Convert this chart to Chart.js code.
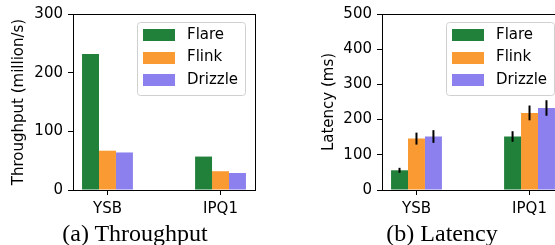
<!DOCTYPE html>
<html>
<head>
<meta charset="utf-8">
<script src="https://cdn.jsdelivr.net/npm/chart.js@4.4.0/dist/chart.umd.min.js"></script>
<style>
  html, body { margin: 0; padding: 0; background: #fff; }
  #fig { position: relative; width: 555px; height: 245px; overflow: hidden; }
  #fig canvas { position: absolute; top: 0; }
  #thr { left: 0; }
  #lat { left: 275px; }
  .cap { position: absolute; top: 221px; font: 24px/24px "Liberation Serif", serif; white-space: nowrap; transform: translateX(-50%); }
</style>
</head>
<body>
<div id="fig">
  <canvas id="thr" width="275" height="245"></canvas>
  <canvas id="lat" width="300" height="245"></canvas>
  <div class="cap" style="left:135px">(a) Throughput</div>
  <div class="cap" style="left:442px">(b) Latency</div>
</div>
<script>
const categories = ['YSB', 'IPQ1']
const systems = ['Flare', 'Flink', 'Drizzle']
const colors = ['#21803a', '#f99a33', '#8b80ee']

// throughput (million/s)
const thrFlare = [232, 57]
const thrFlink = [67, 32]
const thrDrizzle = [64, 29]
const thrTicks = [0, 100, 200, 300]

// latency (ms) + error half-lengths
const latFlare = [56, 152]
const latFlink = [146, 219]
const latDrizzle = [152, 233]
const latFlareErr = [7, 15]
const latFlinkErr = [17, 21]
const latDrizzleErr = [18, 22]
const latTicks = [0, 100, 200, 300, 400, 500]

Chart.defaults.font.family = '"DejaVu Sans", sans-serif'
Chart.defaults.font.size = 15
Chart.defaults.color = '#000'

// full box around the plot area
const frame = {
  id: 'frame',
  afterDatasetsDraw(chart) {
    const { ctx, chartArea: a } = chart
    ctx.save()
    ctx.strokeStyle = '#000'
    ctx.lineWidth = 1
    ctx.strokeRect(a.left + 0.5, a.top + 0.5, a.right - a.left, a.bottom - a.top)
    ctx.restore()
  }
}

const errorBars = {
  id: 'errorBars',
  afterDatasetsDraw(chart) {
    const { ctx, scales: { y } } = chart
    ctx.save()
    ctx.strokeStyle = '#000'
    ctx.lineWidth = 2
    chart.data.datasets.forEach((ds, i) => {
      if (!ds.errors) return
      chart.getDatasetMeta(i).data.forEach((bar, j) => {
        const v = ds.data[j].y, e = ds.errors[j]
        ctx.beginPath()
        ctx.moveTo(bar.x, y.getPixelForValue(v - e))
        ctx.lineTo(bar.x, y.getPixelForValue(v + e))
        ctx.stroke()
      })
    })
    ctx.restore()
  }
}

// legend box in the upper right corner of the plot
const boxLegend = {
  id: 'boxLegend',
  afterDraw(chart) {
    const { ctx, chartArea: a } = chart
    const w = 108, h = 73
    const x0 = Math.round(a.right - 10 - w), y0 = Math.round(a.top + 8)
    ctx.save()
    ctx.fillStyle = 'rgba(255,255,255,0.8)'
    ctx.strokeStyle = '#d0d0d0'
    ctx.lineWidth = 1
    ctx.beginPath()
    ctx.roundRect(x0 + 0.5, y0 + 0.5, w, h, 3)
    ctx.fill()
    ctx.stroke()
    ctx.font = '15px "DejaVu Sans"'
    ctx.textBaseline = 'middle'
    chart.data.datasets.forEach((ds, i) => {
      const cy = y0 + 13 + i * 22.6
      ctx.fillStyle = ds.backgroundColor
      ctx.fillRect(x0 + 6, Math.round(cy - 6), 32, 12)
      ctx.fillStyle = '#000'
      ctx.fillText(ds.label, x0 + 50, cy)
    })
    ctx.restore()
  }
}

const tickGrid = { drawOnChartArea: false, drawTicks: true, tickLength: 5, color: '#000', offset: false }

function makeChart(id, series, errors, ticks, title, titlePad, yWidth, rightPad) {
  return new Chart(document.getElementById(id), {
    type: 'bar',
    data: {
      datasets: series.map((vals, i) => ({
        label: systems[i],
        data: vals.map((v, j) => ({ x: j, y: v })),
        errors: errors ? errors[i] : null,
        backgroundColor: colors[i],
        borderWidth: 0,
        categoryPercentage: 0.45,
        barPercentage: 1
      }))
    },
    options: {
      responsive: false,
      animation: false,
      devicePixelRatio: 1,
      layout: { padding: { top: 12, right: rightPad, left: 0, bottom: 0 } },
      plugins: { legend: { display: false }, tooltip: { enabled: false } },
      scales: {
        x: {
          type: 'linear',
          min: -0.305,
          max: 1.305,
          offset: false,
          afterBuildTicks: s => { s.ticks = categories.map((c, j) => ({ value: j })) },
          afterFit: s => { s.height = 55 },
          ticks: { callback: (v, i) => categories[i], padding: 5, maxRotation: 0, autoSkip: false },
          grid: tickGrid,
          border: { display: false }
        },
        y: {
          min: 0,
          max: ticks[ticks.length - 1],
          afterBuildTicks: s => { s.ticks = ticks.map(v => ({ value: v })) },
          afterFit: s => { s.width = yWidth },
          ticks: { padding: 5 },
          grid: tickGrid,
          border: { display: false },
          title: { display: true, text: title, padding: { top: titlePad, bottom: 0 } }
        }
      }
    },
    plugins: [frame, errorBars, boxLegend]
  })
}

makeChart('thr', [thrFlare, thrFlink, thrDrizzle], null, thrTicks,
  'Throughput (million/s)', 10.5, 73, 20)
makeChart('lat', [latFlare, latFlink, latDrizzle], [latFlareErr, latFlinkErr, latDrizzleErr], latTicks,
  'Latency (ms)', 45.5, 107, 11)
</script>
</body>
</html>
